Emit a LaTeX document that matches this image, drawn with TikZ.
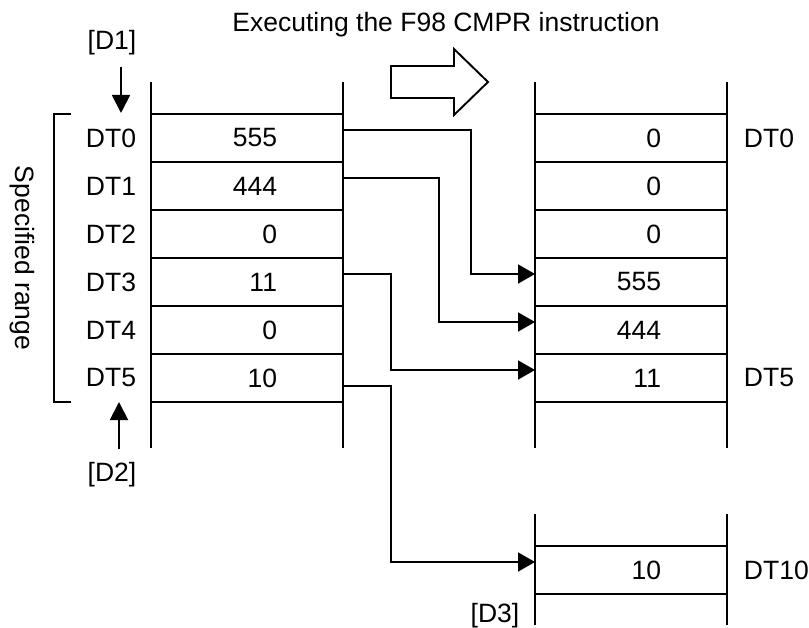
\documentclass[tikz,border=0pt]{standalone}
\usepackage{fontspec}
\setmainfont{Liberation Sans}
\usetikzlibrary{arrows.meta,positioning}

\begin{document}
\begin{tikzpicture}[
    x=1pt, y=-1pt,
    line width=1.9pt,
    font=\fontsize{26.5}{31}\selectfont,
    cell/.style={draw, outer sep=0pt, minimum width=192pt, minimum height=48pt,
        text width=60pt, inner xsep=66pt, inner ysep=0pt, align=right},
    tag/.style={inner sep=0pt},
    conn/.style={-{Triangle[length=17pt,width=19pt]}},
    ptr/.style={-{Triangle[length=18pt,width=18pt]}}
]
\useasboundingbox (0,0) rectangle (809,628);

\node[tag, anchor=base] (title) at (446,32) {Executing the F98 CMPR instruction};

% source area
\node[cell] (l0) at (247,138) {555};
\node[cell] (l1) at (247,186) {444};
\node[cell] (l2) at (247,234) {0};
\node[cell] (l3) at (247,282) {11};
\node[cell] (l4) at (247,330) {0};
\node[cell] (l5) at (247,378) {10};
\draw (l0.north west) -- ++(0,-32) (l0.north east) -- ++(0,-32)
      (l5.south west) -- ++(0,46) (l5.south east) -- ++(0,46);

\node[tag, left=14pt of l0] (tl0) {DT0};
\node[tag, left=14pt of l1] (tl1) {DT1};
\node[tag, left=14pt of l2] (tl2) {DT2};
\node[tag, left=14pt of l3] (tl3) {DT3};
\node[tag, left=14pt of l4] (tl4) {DT4};
\node[tag, left=14pt of l5] (tl5) {DT5};

% result area
\node[cell] (r0) at (631,138) {0};
\node[cell] (r1) at (631,186) {0};
\node[cell] (r2) at (631,234) {0};
\node[cell] (r3) at (631,282) {555};
\node[cell] (r4) at (631,330) {444};
\node[cell] (r5) at (631,378) {11};
\draw (r0.north west) -- ++(0,-32) (r0.north east) -- ++(0,-32)
      (r5.south west) -- ++(0,46) (r5.south east) -- ++(0,46);

\node[tag, right=16pt of r0] (tr0) {DT0};
\node[tag, right=16pt of r5] (tr5) {DT5};

\node[cell] (d10) at (631,570) {10};
\draw (d10.north west) -- ++(0,-32) (d10.north east) -- ++(0,-32)
      (d10.south west) -- ++(0,31) (d10.south east) -- ++(0,31);
\node[tag, right=16pt of d10] (td10) {DT10};

% hollow arrow
\draw (391,66) -- (454,66) -- (454,49) -- (488,82) -- (454,115) -- (454,98)
      -- (391,98) -- cycle;

% specified range
\draw (71,114) -- (54,114) -- (54,402) -- (71,402);
\node[tag, rotate=-90] (range) at (22,258) {Specified range};

\node[tag, anchor=base] (D1) at (112,50) {[D1]};
\node[tag, anchor=base] (D2) at (112,481) {[D2]};
\node[tag, anchor=base] (D3) at (495,622) {[D3]};
\coordinate (p1) at (121,113);
\coordinate (p2) at (119,402);
\draw[ptr] (121,67) -- (p1);
\draw[ptr] (119,449) -- (p2);

% moved data
\draw[conn] ([yshift=8pt]l0.east) -- ++(128,0) |- ([yshift=8pt]r3.west);
\draw[conn] ([yshift=8pt]l1.east) -- ++(96,0) |- ([yshift=8pt]r4.west);
\draw[conn] ([yshift=8pt]l3.east) -- ++(48,0) |- ([yshift=8pt]r5.west);
\draw[conn] ([yshift=-8pt]l5.east) -- ++(48,0) |- ([yshift=8pt]d10.west);

\end{tikzpicture}
\end{document}
